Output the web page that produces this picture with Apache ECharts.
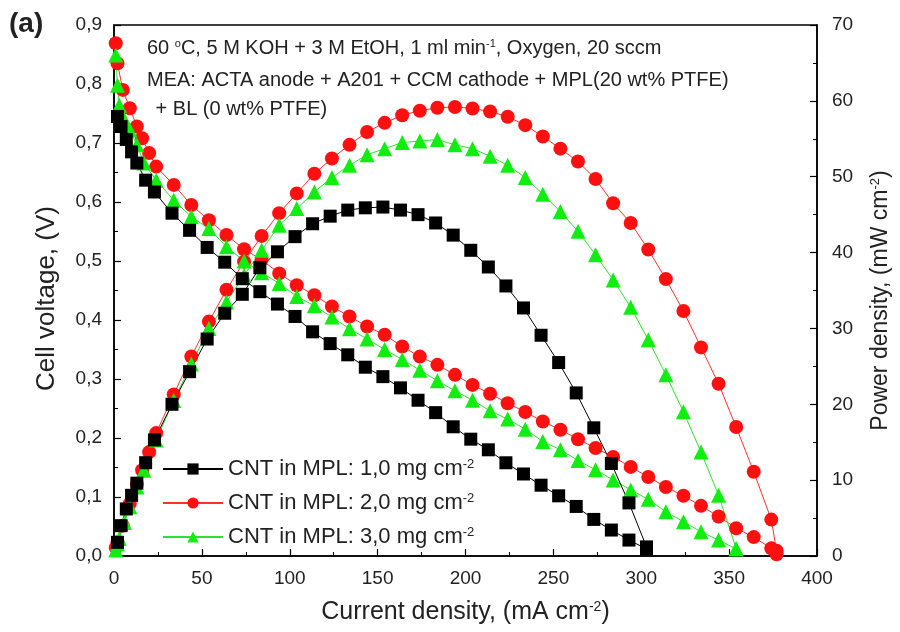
<!DOCTYPE html>
<html>
<head>
<meta charset="utf-8">
<script src="https://cdn.jsdelivr.net/npm/echarts@6/dist/echarts.min.js"></script>
<style>html,body{margin:0;padding:0;background:#fff}#c{width:900px;height:632px}</style>
</head>
<body>
<div id="c"></div>
<script>
// ---- data (current density in mA cm-2, cell voltage in V, power density in mW cm-2) ----
const seriesNames = ['CNT in MPL: 1,0 mg cm', 'CNT in MPL: 2,0 mg cm', 'CNT in MPL: 3,0 mg cm'];

const blackI = [2,4,7,10,13,18,23,33,43,53,63,73,83,93,103,113,123,133,143,153,163,173,183,193,203,213,223,233,243,253,263,273,283,293,303];
const blackV = [0.745,0.728,0.706,0.685,0.666,0.637,0.617,0.581,0.552,0.523,0.498,0.470,0.448,0.427,0.406,0.380,0.360,0.341,0.320,0.304,0.285,0.264,0.243,0.219,0.198,0.180,0.158,0.139,0.120,0.102,0.084,0.062,0.044,0.027,0.012];
const blackP = [1.8,4.0,6.2,8.0,9.6,12.3,15.3,20.0,24.3,28.6,32.0,34.5,38.0,40.1,42.1,43.8,44.8,45.6,45.9,46.0,45.6,45.0,43.9,42.3,40.3,38.1,35.6,32.7,29.1,25.5,21.5,16.9,12.2,7.0,1.2];

const redI = [1,2,5,9,13,16,20,24,34,44,54,64,74,84,94,104,114,124,134,144,154,164,174,184,194,204,214,224,234,244,254,264,274,284,294,304,314,324,334,344,354,364,374,377];
const redV = [0.869,0.835,0.790,0.759,0.728,0.708,0.683,0.660,0.629,0.595,0.569,0.544,0.520,0.502,0.479,0.459,0.442,0.423,0.406,0.389,0.375,0.355,0.338,0.324,0.307,0.290,0.275,0.259,0.244,0.228,0.214,0.198,0.183,0.168,0.151,0.134,0.117,0.102,0.085,0.067,0.047,0.032,0.013,0.003];
const redP = [1.1,1.8,4.0,6.9,9.5,11.3,13.7,16.2,21.3,26.3,30.9,35.1,38.8,42.2,45.2,47.8,50.4,52.4,54.2,55.9,57.1,58.1,58.7,59.1,59.2,59.0,58.6,57.9,56.8,55.3,53.7,52.0,49.7,46.5,43.9,40.4,36.5,32.3,27.5,22.7,17.0,11.1,4.8,0.7];

const greenI = [1,2,3,6,9,13,17,24,34,44,54,64,74,84,94,104,114,124,134,144,154,164,174,184,194,204,214,224,234,244,254,264,274,284,294,304,314,324,334,344,354];
const greenV = [0.849,0.798,0.764,0.739,0.722,0.697,0.666,0.637,0.603,0.575,0.555,0.524,0.500,0.480,0.462,0.440,0.424,0.405,0.385,0.368,0.350,0.333,0.315,0.297,0.280,0.264,0.246,0.232,0.215,0.194,0.180,0.162,0.146,0.129,0.112,0.096,0.075,0.058,0.041,0.027,0.012];
const greenP = [0.8,1.6,2.3,4.4,6.5,9.1,11.3,15.3,20.5,25.3,30.0,33.5,37.0,40.3,43.6,45.8,48.0,49.9,51.5,52.9,53.7,54.5,54.7,54.9,54.2,53.7,52.7,51.5,49.9,47.7,45.4,42.8,39.7,36.4,32.8,28.5,23.9,19.0,13.7,8.0,1.0];

const leftTicks = [0,0.1,0.2,0.3,0.4,0.5,0.6,0.7,0.8,0.9];
const rightTicks = [0,10,20,30,40,50,60,70];
const xTicks = [0,50,100,150,200,250,300,350,400];

// ---- build ----
const pairs = (xs, ys) => xs.map((x, i) => [x, ys[i]]);
const FONT = 'Liberation Sans, Arial, sans-serif';
const TXT = '#222';

const styles = [
  { color: '#000000', line: '#000000', symbol: 'rect', size: 13 },
  { color: '#ff1010', line: '#ff3030', symbol: 'circle', size: 14 },
  { color: '#10ee10', line: '#30e030', symbol: 'triangle', size: 15 }
];
const dataV = [pairs(blackI, blackV), pairs(redI, redV), pairs(greenI, greenV)];
const dataP = [pairs(blackI, blackP), pairs(redI, redP), pairs(greenI, greenP)];

const order = [1, 2, 0];
const series = [];
order.forEach(k => {
  const s = styles[k];
  [[dataV[k], 0], [dataP[k], 1]].forEach(([d, yi]) => {
    series.push({
      name: seriesNames[k], type: 'line', yAxisIndex: yi, data: d,
      symbol: s.symbol, symbolSize: s.size, showAllSymbol: true,
      itemStyle: { color: s.color, borderWidth: 0 },
      lineStyle: { color: s.line, width: 1 },
      animation: false, z: 3
    });
  });
});

const supStyle = (fs) => ({ fontSize: fs, verticalAlign: 'top', fontFamily: FONT, color: TXT });

const axisCommon = {
  axisLine: { show: true, lineStyle: { color: '#000', width: 1.5 } },
  axisTick: { show: true, inside: true, length: 7, lineStyle: { color: '#000', width: 1.2 } },
  minorTick: { show: true, splitNumber: 2, length: 4, lineStyle: { color: '#000', width: 1 } },
  splitLine: { show: false },
  axisLabel: { fontSize: 19, color: TXT, fontFamily: FONT }
};

const chart = echarts.init(document.getElementById('c'), null, { renderer: 'canvas' });
chart.setOption({
  backgroundColor: '#fff',
  animation: false,
  grid: { left: 114, right: 83, top: 25, bottom: 76, show: true, borderColor: '#000', borderWidth: 1.5, backgroundColor: 'transparent' },
  legend: {
    data: seriesNames, orient: 'vertical', left: 157, top: 453, itemWidth: 60, itemHeight: 14, itemGap: 12,
    formatter: n => n + '{s|-2}',
    textStyle: { fontSize: 22, color: TXT, fontFamily: FONT, rich: { s: supStyle(13) } },
    selectedMode: false
  },
  xAxis: Object.assign({}, axisCommon, {
    type: 'value', min: xTicks[0], max: xTicks[xTicks.length - 1], interval: 50,
    axisLabel: Object.assign({}, axisCommon.axisLabel, { margin: 13 }),
    name: 'Current density, (mA cm{s|-2})', nameLocation: 'middle', nameGap: 44,
    nameTextStyle: { fontSize: 25, color: TXT, fontFamily: FONT, rich: { s: supStyle(14) } }
  }),
  yAxis: [
    Object.assign({}, axisCommon, {
      type: 'value', min: leftTicks[0], max: leftTicks[leftTicks.length - 1], interval: 0.1, position: 'left',
      axisLabel: Object.assign({}, axisCommon.axisLabel, { margin: 12, formatter: v => v.toFixed(1).replace('.', ',') }),
      name: 'Cell voltage, (V)', nameLocation: 'middle', nameGap: 54, nameRotate: 90,
      nameTextStyle: { fontSize: 26, color: TXT, fontFamily: FONT, padding: [0, 16, 0, 0] }
    }),
    Object.assign({}, axisCommon, {
      type: 'value', min: rightTicks[0], max: rightTicks[rightTicks.length - 1], interval: 10, position: 'right',
      axisLabel: Object.assign({}, axisCommon.axisLabel, { margin: 15 }),
      name: 'Power density, (mW cm{s|-2})', nameLocation: 'middle', nameGap: 52, nameRotate: 90,
      nameTextStyle: { fontSize: 23, color: TXT, fontFamily: FONT, padding: [0, 20, 0, 0], rich: { s: supStyle(13) } }
    })
  ],
  graphic: [
    { type: 'text', left: 9, top: 10, style: { text: '(a)', font: 'bold 28px ' + FONT, fill: TXT } },
    { type: 'text', x: 147, y: 48, style: { text: '60 {s|o}C, 5 M KOH + 3 M EtOH, 1 ml min{s|-1}, Oxygen, 20 sccm', verticalAlign: 'middle', font: '20px ' + FONT, fill: TXT, rich: { s: supStyle(11) } } },
    { type: 'text', x: 147, y: 80, style: { text: 'MEA: ACTA anode + A201 + CCM cathode + MPL(20 wt% PTFE)', verticalAlign: 'middle', font: '20px ' + FONT, fill: TXT } },
    { type: 'text', x: 150, y: 109, style: { text: ' + BL (0 wt% PTFE)', verticalAlign: 'middle', font: '20px ' + FONT, fill: TXT } }
  ],
  series: series
});
</script>
</body>
</html>
